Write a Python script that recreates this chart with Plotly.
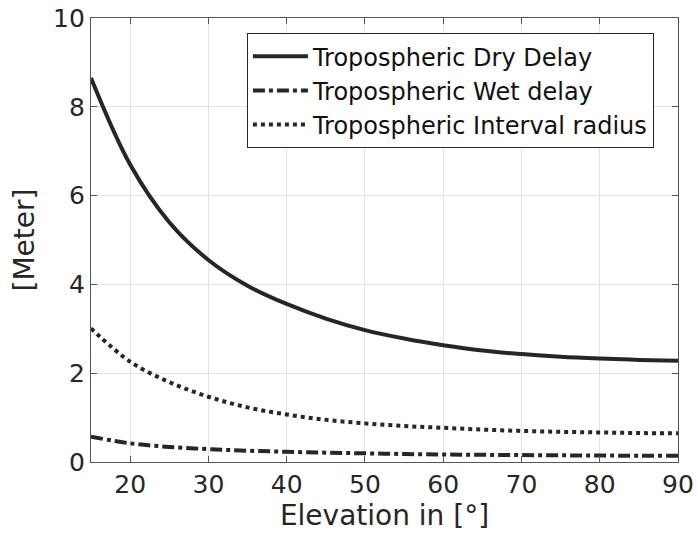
import plotly.graph_objects as go

elev = [15, 20, 25, 30, 35, 40, 45, 50, 55, 60, 65, 70, 75, 80, 85, 90]
dry = [8.65, 6.70, 5.40, 4.55, 3.97, 3.56, 3.23, 2.97, 2.78, 2.63, 2.51, 2.43, 2.37, 2.33, 2.30, 2.28]
wet = [0.57, 0.42, 0.34, 0.29, 0.255, 0.23, 0.21, 0.195, 0.18, 0.17, 0.162, 0.155, 0.15, 0.145, 0.142, 0.14]
interval = [3.01, 2.26, 1.80, 1.47, 1.23, 1.07, 0.95, 0.87, 0.81, 0.77, 0.73, 0.70, 0.68, 0.665, 0.652, 0.645]

names = ["Tropospheric Dry Delay", "Tropospheric Wet delay", "Tropospheric Interval radius"]
dashes = ["solid", "dashdot", "dot"]
col = "#262626"

fig = go.Figure()
for y, n, d in zip([dry, wet, interval], names, dashes):
    fig.add_trace(go.Scatter(x=elev, y=y, name=n, mode="lines",
                             line=dict(color=col, width=4, dash=d, shape="spline", smoothing=1.0)))

axis_common = dict(showgrid=True, gridcolor="#e3e3e3", gridwidth=1, showline=True,
                   linecolor="#555555", linewidth=1.3, mirror="ticks", ticks="inside",
                   ticklen=6, tickcolor="#555555", zeroline=False, automargin=False,
                   tickfont=dict(size=25, color=col, family="DejaVu Sans"))

fig.update_layout(
    width=698, height=544,
    margin=dict(l=91, r=20, t=18, b=82),
    paper_bgcolor="white", plot_bgcolor="white",
    font=dict(family="DejaVu Sans", color=col),
    xaxis=dict(range=[15, 90], tickvals=[20, 30, 40, 50, 60, 70, 80, 90],
               title=dict(text="Elevation in [°]", font=dict(size=28, color=col), standoff=6),
               **axis_common),
    yaxis=dict(range=[0, 10], tickvals=[0, 2, 4, 6, 8, 10],
               title=dict(text="[Meter]", font=dict(size=28, color=col), standoff=10),
               **axis_common),
    legend=dict(x=0.959, y=0.966, xanchor="right", yanchor="top",
                bgcolor="white", bordercolor="#262626", borderwidth=1,
                font=dict(size=24, color="#111111"), itemwidth=55,
                tracegroupgap=0),
    showlegend=True,
)

fig.write_html("out.html")
